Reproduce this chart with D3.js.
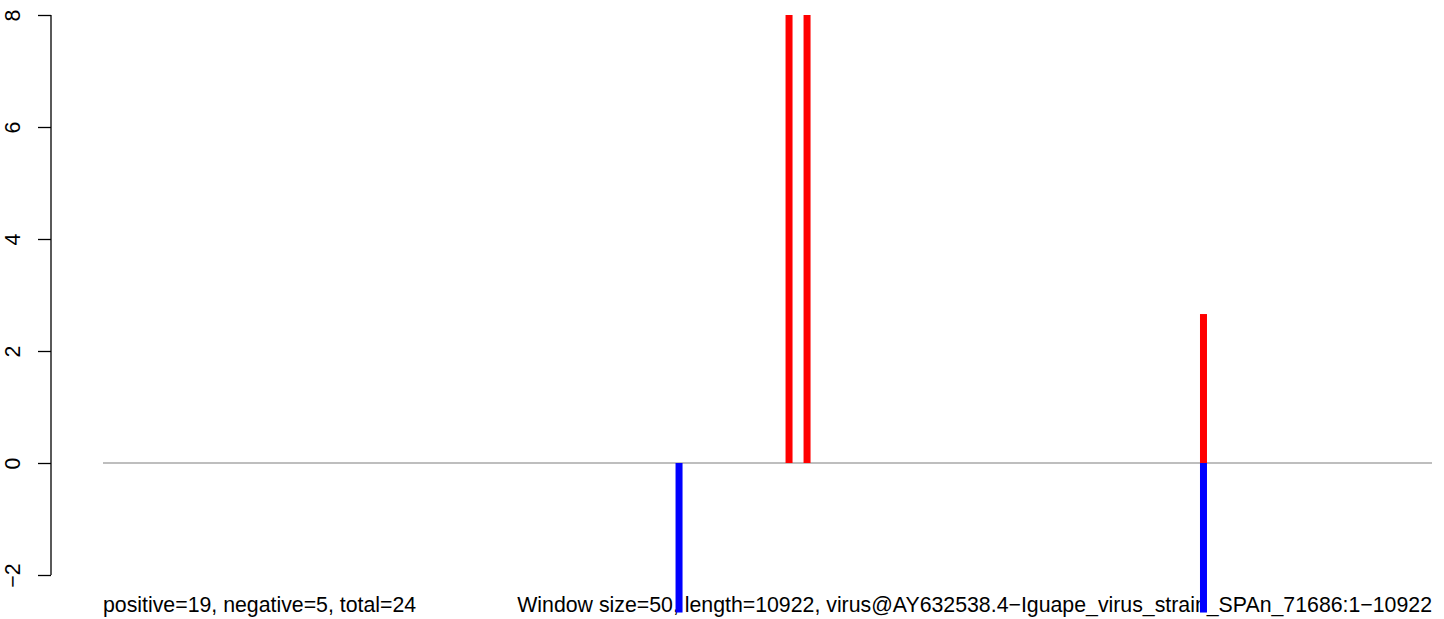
<!DOCTYPE html>
<html>
<head>
<meta charset="utf-8">
<script src="https://cdn.jsdelivr.net/npm/d3@7"></script>
<style>
html,body{margin:0;padding:0;background:#fff;}
svg{display:block;}
text{font-family:"Liberation Sans",Arial,sans-serif;}
</style>
</head>
<body>
<svg id="chart" width="1444" height="619"></svg>
<script>
// Data (window positions along the genome and scores)
const positivePos = [5638, 5786, 9044];   // red windows
const positiveVal = [8, 8, 2.66];
const negativePos = [4734, 9044];         // blue windows
const negativeVal = [-2.67, -2.67];
const yTicks = [-2, 0, 2, 4, 6, 8];
const seqLength = 10922;
const leftLabel = "positive=19, negative=5, total=24";
const rightLabel = "Window size=50, length=10922, virus@AY632538.4\u2212Iguape_virus_strain_SPAn_71686:1\u221210922";

const svg = d3.select("#chart");
const x = d3.scaleLinear().domain([0, seqLength]).range([103, 1432]);
const y = d3.scaleLinear().domain([-2, 8]).range([575, 15]);
const fs = 21.3;

// bottom labels
svg.append("text").attr("x", 103).attr("y", 612)
  .attr("font-size", fs).attr("fill", "#000").text(leftLabel);
svg.append("text").attr("x", 1432).attr("y", 612).attr("text-anchor", "end")
  .attr("font-size", fs).attr("fill", "#000").text(rightLabel);

// zero line
svg.append("line")
  .attr("x1", x(0)).attr("x2", x(seqLength))
  .attr("y1", y(0)).attr("y2", y(0))
  .attr("stroke", "#7f7f7f").attr("stroke-width", 1.2);

// bars
const pos = positivePos.map((p, i) => ({p, v: positiveVal[i]}));
const neg = negativePos.map((p, i) => ({p, v: negativeVal[i]}));
svg.selectAll("rect.pos").data(pos).enter().append("rect").attr("class", "pos")
  .attr("x", d => x(d.p) - 3.5).attr("width", 7)
  .attr("y", d => y(d.v)).attr("height", d => y(0) - y(d.v))
  .attr("fill", "#ff0000");
svg.selectAll("rect.neg").data(neg).enter().append("rect").attr("class", "neg")
  .attr("x", d => x(d.p) - 3.5).attr("width", 7)
  .attr("y", y(0)).attr("height", d => y(d.v) - y(0))
  .attr("fill", "#0000ff");

// y axis
const axis = d3.axisLeft(y).tickValues(yTicks).tickSize(13).tickPadding(0)
  .tickFormat(d => d < 0 ? "\u2212" + Math.abs(d) : String(d));
const g = svg.append("g").attr("transform", "translate(51,0)").call(axis);
g.select(".domain").attr("d", `M0,${y(-2)}V${y(8)}`).attr("stroke", "#000").attr("stroke-width", 1.3);
g.selectAll(".tick line").attr("stroke", "#000").attr("stroke-width", 1.3);
g.selectAll(".tick text")
  .attr("font-size", fs).attr("fill", "#000")
  .attr("text-anchor", "middle")
  .attr("transform", "translate(-38.5,0) rotate(-90)")
  .attr("x", 0).attr("dy", "0.35em");
</script>
</body>
</html>
